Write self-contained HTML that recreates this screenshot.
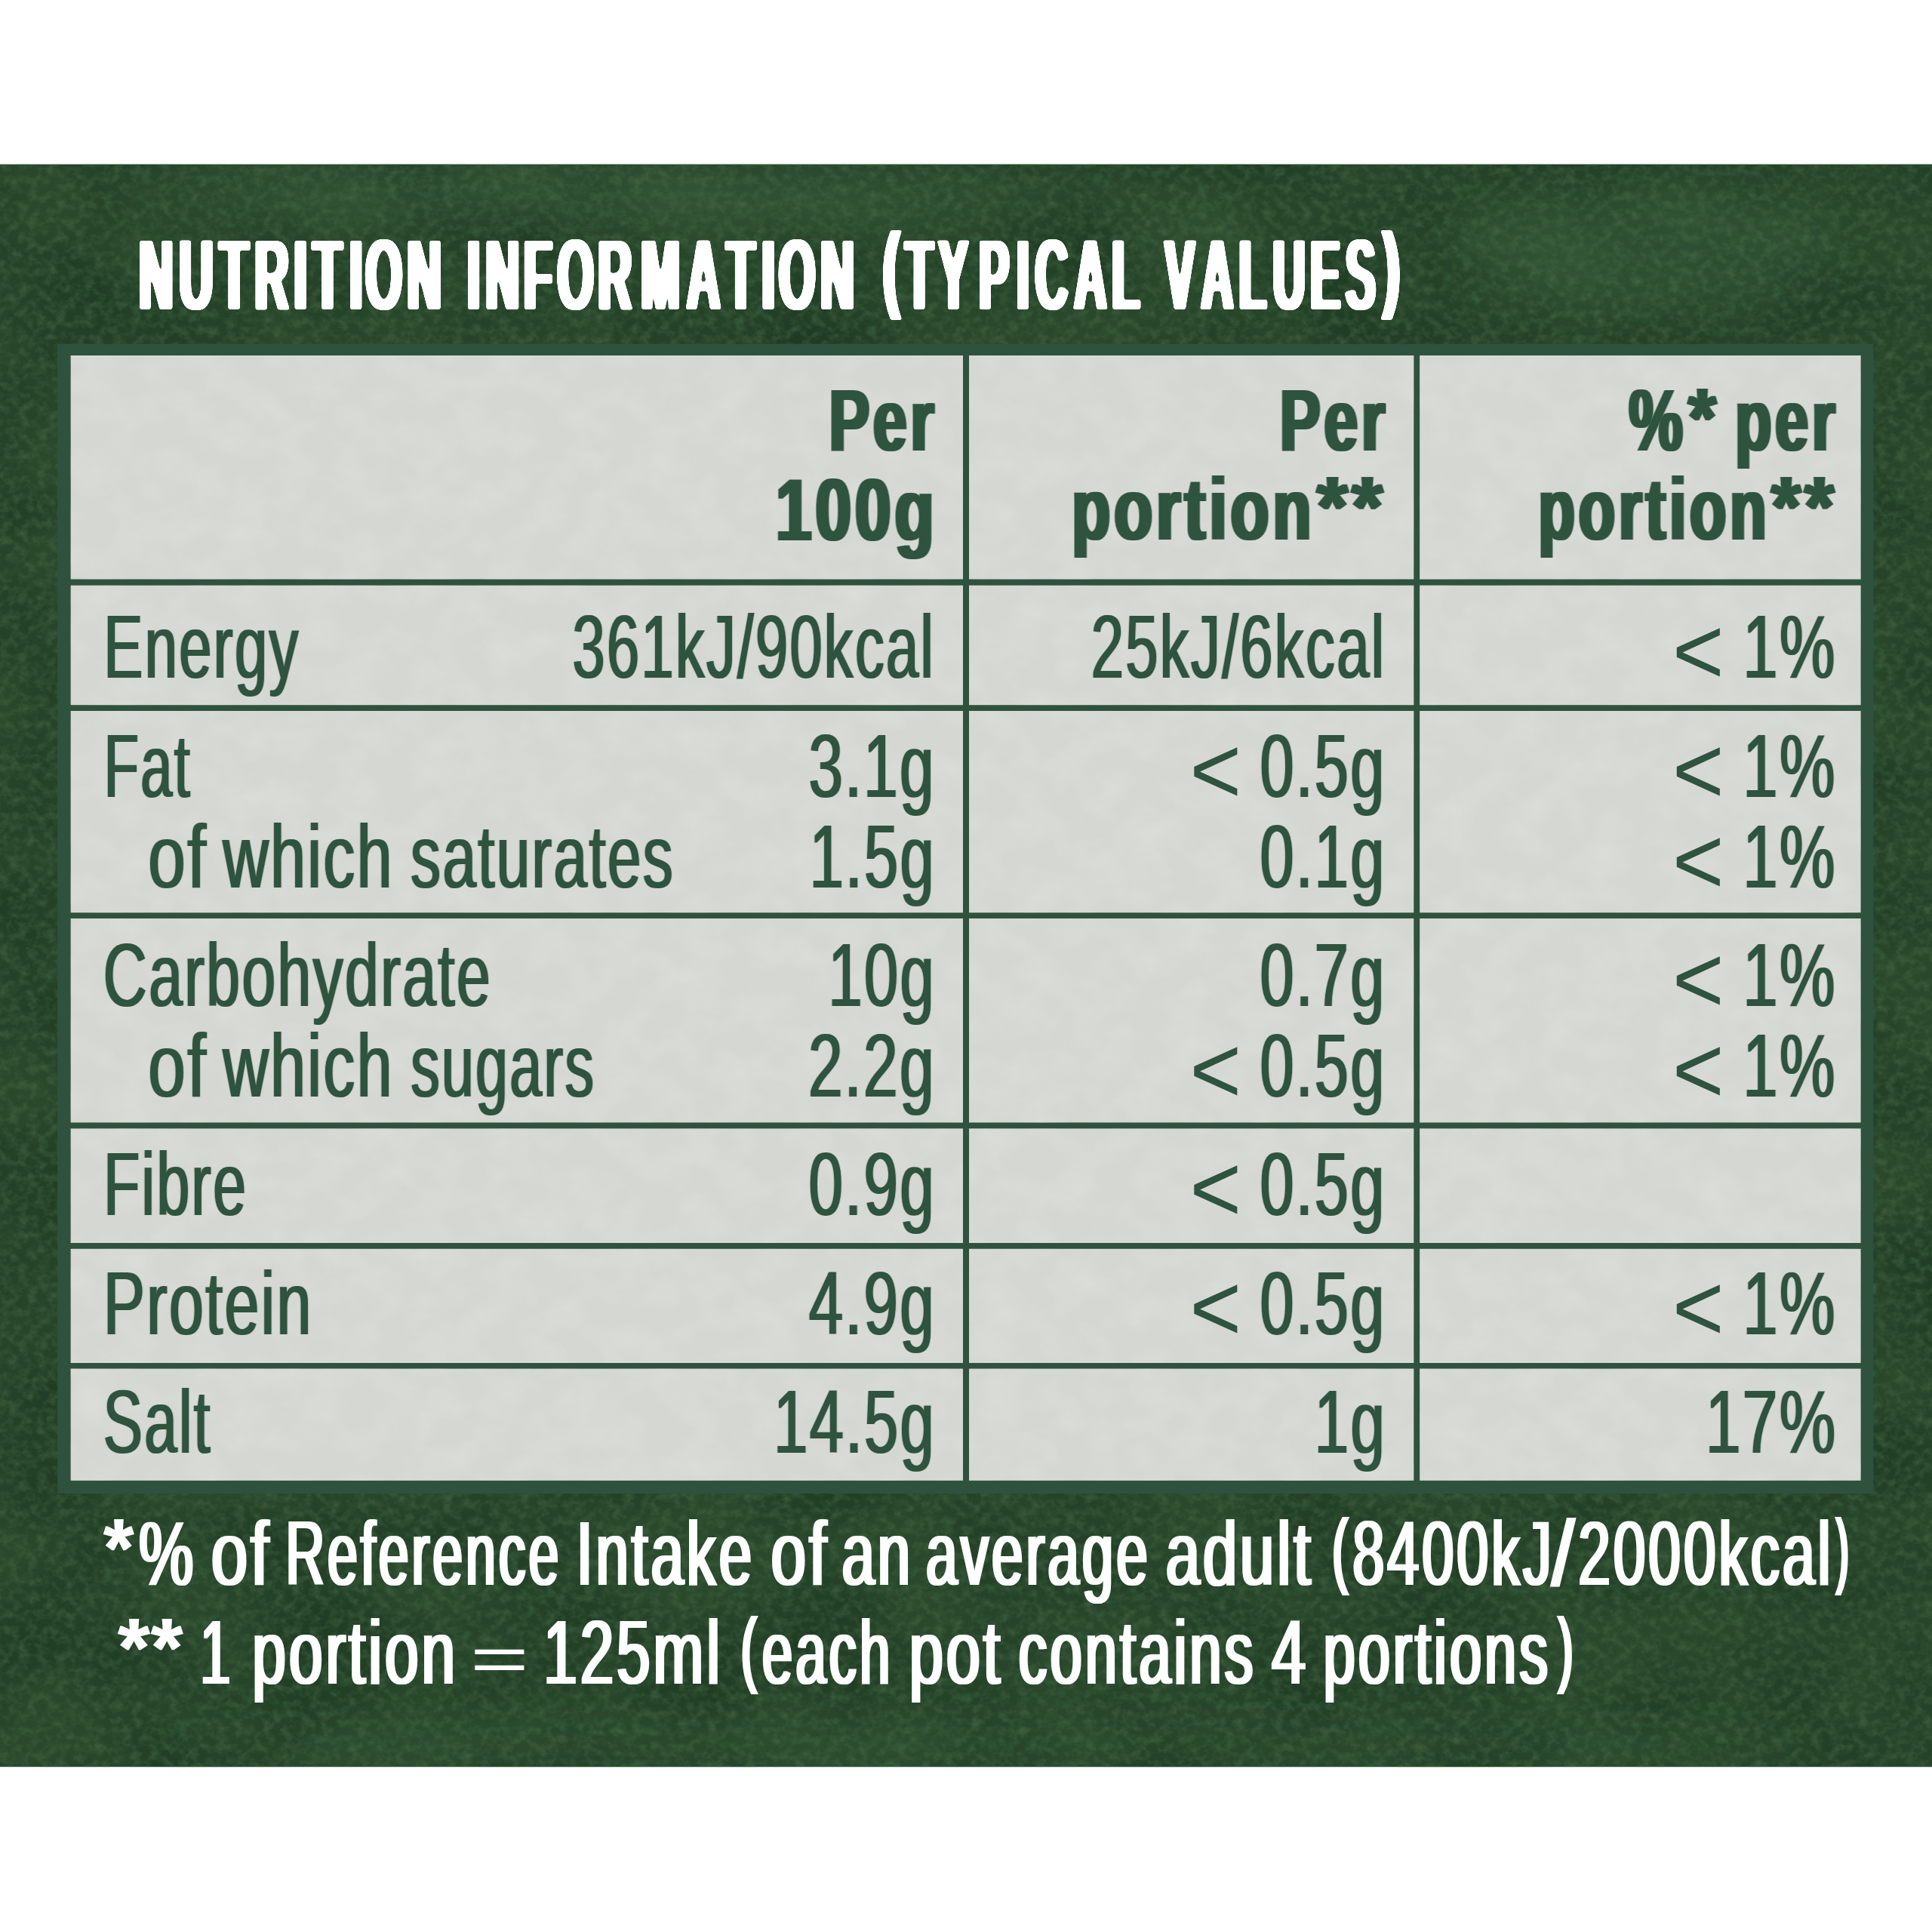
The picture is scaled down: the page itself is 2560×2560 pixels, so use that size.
<!DOCTYPE html>
<html lang="en"><head><meta charset="utf-8"><title>Nutrition information</title>
<style>html,body{margin:0;padding:0;background:#fff}body{width:2560px;height:2560px;overflow:hidden}svg{display:block}text{font-family:"Liberation Sans",sans-serif;white-space:pre}</style></head><body>
<svg width="2560" height="2560" viewBox="0 0 2560 2560">
<defs>
<filter id="dr" filterUnits="userSpaceOnUse" x="0" y="0" width="2560" height="2560" color-interpolation-filters="sRGB"><feMorphology in="SourceGraphic" operator="dilate" radius="1 0" result="a"/><feMorphology in="SourceGraphic" operator="dilate" radius="2 0" result="b"/><feComposite in="a" in2="b" operator="arithmetic" k1="0" k2="0.80" k3="0.20" k4="0" result="d"/></filter>
<filter id="db" filterUnits="userSpaceOnUse" x="0" y="0" width="2560" height="2560" color-interpolation-filters="sRGB"><feMorphology in="SourceGraphic" operator="dilate" radius="2 0" result="a"/><feMorphology in="SourceGraphic" operator="dilate" radius="3 0" result="b"/><feComposite in="a" in2="b" operator="arithmetic" k1="0" k2="0.50" k3="0.50" k4="0" result="d"/></filter>
<filter id="df" filterUnits="userSpaceOnUse" x="0" y="0" width="2560" height="2560" color-interpolation-filters="sRGB"><feMorphology in="SourceGraphic" operator="dilate" radius="2 0" result="d"/></filter>
<filter id="dfb" filterUnits="userSpaceOnUse" x="0" y="0" width="2560" height="2560" color-interpolation-filters="sRGB"><feMorphology in="SourceGraphic" operator="dilate" radius="1 0" result="d"/></filter>
<filter id="dt" filterUnits="userSpaceOnUse" x="0" y="0" width="2560" height="2560" color-interpolation-filters="sRGB"><feMorphology in="SourceGraphic" operator="dilate" radius="3 0" result="a"/><feMorphology in="SourceGraphic" operator="dilate" radius="4 0" result="b"/><feComposite in="a" in2="b" operator="arithmetic" k1="0" k2="0.75" k3="0.25" k4="0" result="d"/><feMorphology in="d" operator="erode" radius="0 1" result="d"/><feGaussianBlur in="d" stdDeviation="1.8"/><feComponentTransfer><feFuncA type="linear" slope="8" intercept="-3.5"/></feComponentTransfer><feComponentTransfer><feFuncR type="linear" slope="0" intercept="1"/><feFuncG type="linear" slope="0" intercept="1"/><feFuncB type="linear" slope="0" intercept="1"/></feComponentTransfer></filter>
<filter id="tex" filterUnits="userSpaceOnUse" x="0" y="216" width="2560" height="2127" color-interpolation-filters="sRGB">
<feTurbulence type="fractalNoise" baseFrequency="0.08 0.09" numOctaves="4" seed="7" result="n"/>
<feColorMatrix in="n" type="matrix" values="0 0 0 0 0.27  0 0 0 0 0.41  0 0 0 0 0.27  1.3 0 0 0 -0.50" result="c"/>
<feComposite in="c" in2="SourceGraphic" operator="in"/>
</filter>
<filter id="tex2" filterUnits="userSpaceOnUse" x="0" y="216" width="2560" height="2127" color-interpolation-filters="sRGB">
<feTurbulence type="fractalNoise" baseFrequency="0.006 0.008" numOctaves="2" seed="11" result="n"/>
<feColorMatrix in="n" type="matrix" values="0 0 0 0 0.10  0 0 0 0 0.20  0 0 0 0 0.12  0 1.2 0 0 -0.42" result="c"/>
<feComposite in="c" in2="SourceGraphic" operator="in"/>
</filter>
<filter id="tex3" filterUnits="userSpaceOnUse" x="90" y="465" width="2380" height="1500" color-interpolation-filters="sRGB">
<feTurbulence type="fractalNoise" baseFrequency="0.02 0.025" numOctaves="4" seed="21" result="n"/>
<feColorMatrix in="n" type="matrix" values="0 0 0 0 0.87  0 0 0 0 0.875  0 0 0 0 0.86  1.2 0 0 0 -0.40" result="c"/>
<feComposite in="c" in2="SourceGraphic" operator="in"/>
</filter>
<filter id="bl" x="-20%" y="-100%" width="140%" height="300%"><feGaussianBlur stdDeviation="28"/></filter>
<clipPath id="band"><rect x="0" y="217.7" width="2560" height="2123.5"/></clipPath>
</defs>
<rect x="0" y="217.7" width="2560" height="2123.5" fill="#29482c"/>
<rect x="0" y="217.7" width="2560" height="2123.5" fill="#000" filter="url(#tex2)"/>
<rect x="0" y="217.7" width="2560" height="2123.5" fill="#000" filter="url(#tex)"/>
<g clip-path="url(#band)"><g filter="url(#bl)" fill="#4c7c52"><ellipse cx="800" cy="258" rx="640" ry="30" opacity="0.30"/><ellipse cx="2180" cy="330" rx="250" ry="80" opacity="0.22"/><ellipse cx="1560" cy="300" rx="90" ry="60" opacity="0.20"/><ellipse cx="1300" cy="2310" rx="1100" ry="25" opacity="0.18"/></g></g>
<rect x="76.1" y="455.8" width="2406.2" height="1523.2" fill="#2e523e"/>
<rect x="93.7" y="471.0" width="1182.3" height="296.5" fill="#d5d7d2"/>
<rect x="1284.0" y="471.0" width="589.3" height="296.5" fill="#d5d7d2"/>
<rect x="1881.2" y="471.0" width="584.4" height="296.5" fill="#d5d7d2"/>
<rect x="93.7" y="775.7" width="1182.3" height="158.5" fill="#d5d7d2"/>
<rect x="1284.0" y="775.7" width="589.3" height="158.5" fill="#d5d7d2"/>
<rect x="1881.2" y="775.7" width="584.4" height="158.5" fill="#d5d7d2"/>
<rect x="93.7" y="942.0" width="1182.3" height="267.3" fill="#d5d7d2"/>
<rect x="1284.0" y="942.0" width="589.3" height="267.3" fill="#d5d7d2"/>
<rect x="1881.2" y="942.0" width="584.4" height="267.3" fill="#d5d7d2"/>
<rect x="93.7" y="1217.0" width="1182.3" height="270.4" fill="#d5d7d2"/>
<rect x="1284.0" y="1217.0" width="589.3" height="270.4" fill="#d5d7d2"/>
<rect x="1881.2" y="1217.0" width="584.4" height="270.4" fill="#d5d7d2"/>
<rect x="93.7" y="1495.4" width="1182.3" height="151.6" fill="#d5d7d2"/>
<rect x="1284.0" y="1495.4" width="589.3" height="151.6" fill="#d5d7d2"/>
<rect x="1881.2" y="1495.4" width="584.4" height="151.6" fill="#d5d7d2"/>
<rect x="93.7" y="1654.8" width="1182.3" height="151.2" fill="#d5d7d2"/>
<rect x="1284.0" y="1654.8" width="589.3" height="151.2" fill="#d5d7d2"/>
<rect x="1881.2" y="1654.8" width="584.4" height="151.2" fill="#d5d7d2"/>
<rect x="93.7" y="1813.6" width="1182.3" height="148.2" fill="#d5d7d2"/>
<rect x="1284.0" y="1813.6" width="589.3" height="148.2" fill="#d5d7d2"/>
<rect x="1881.2" y="1813.6" width="584.4" height="148.2" fill="#d5d7d2"/>
<g filter="url(#tex3)">
<rect x="93.7" y="471.0" width="1182.3" height="296.5" fill="#000"/>
<rect x="1284.0" y="471.0" width="589.3" height="296.5" fill="#000"/>
<rect x="1881.2" y="471.0" width="584.4" height="296.5" fill="#000"/>
<rect x="93.7" y="775.7" width="1182.3" height="158.5" fill="#000"/>
<rect x="1284.0" y="775.7" width="589.3" height="158.5" fill="#000"/>
<rect x="1881.2" y="775.7" width="584.4" height="158.5" fill="#000"/>
<rect x="93.7" y="942.0" width="1182.3" height="267.3" fill="#000"/>
<rect x="1284.0" y="942.0" width="589.3" height="267.3" fill="#000"/>
<rect x="1881.2" y="942.0" width="584.4" height="267.3" fill="#000"/>
<rect x="93.7" y="1217.0" width="1182.3" height="270.4" fill="#000"/>
<rect x="1284.0" y="1217.0" width="589.3" height="270.4" fill="#000"/>
<rect x="1881.2" y="1217.0" width="584.4" height="270.4" fill="#000"/>
<rect x="93.7" y="1495.4" width="1182.3" height="151.6" fill="#000"/>
<rect x="1284.0" y="1495.4" width="589.3" height="151.6" fill="#000"/>
<rect x="1881.2" y="1495.4" width="584.4" height="151.6" fill="#000"/>
<rect x="93.7" y="1654.8" width="1182.3" height="151.2" fill="#000"/>
<rect x="1284.0" y="1654.8" width="589.3" height="151.2" fill="#000"/>
<rect x="1881.2" y="1654.8" width="584.4" height="151.2" fill="#000"/>
<rect x="93.7" y="1813.6" width="1182.3" height="148.2" fill="#000"/>
<rect x="1284.0" y="1813.6" width="589.3" height="148.2" fill="#000"/>
<rect x="1881.2" y="1813.6" width="584.4" height="148.2" fill="#000"/>
</g>
<g filter="url(#dt)" font-size="135.2" font-weight="bold" fill="#ffffff">
<text x="397.8 512.2 628.1 728.1 840.4 895.1 999.0 1044.8 1164.2" transform="translate(0 411.00) scale(0.4634 1)">NUTRITION</text>
<text x="1348.2 1401.6 1510.7 1608.4 1726.1 1849.2 1981.3 2095.8 2198.4 2247.2 2367.4" transform="translate(0 411.00) scale(0.4592 1)">INFORMATION</text>
<text transform="translate(1169.67 398.07) scale(0.5128 0.9619)">(</text>
<text x="2705.9 2803.9 2925.2 3037.7 3093.7 3209.7 3323.3" transform="translate(0 411.00) scale(0.4434 1)">TYPICAL</text>
<text x="3514.3 3623.4 3738.1 3840.3 3953.2 4059.8" transform="translate(0 411.00) scale(0.4392 1)">VALUES</text>
<text transform="translate(1831.45 398.07) scale(0.5231 0.9619)">)</text>
</g>
<g filter="url(#db)" font-size="116.3" font-weight="bold" fill="#2e533f">
<text transform="translate(1098.68 597.00) scale(0.6884 1.0000)" letter-spacing="7.26">Per</text>
<text transform="translate(1695.98 597.00) scale(0.6890 1.0000)" letter-spacing="7.26">Per</text>
<text transform="translate(2158.42 597.00) scale(0.6889 1.0000)">%</text>
<text transform="translate(2236.90 592.66) scale(0.8174 0.9773)">*</text>
<text transform="translate(2299.16 597.00) scale(0.6774 1.0000)" letter-spacing="7.38">per</text>
<text transform="translate(1028.06 715.50) scale(0.7338 1.0000)" letter-spacing="6.81">100g</text>
<text transform="translate(1420.18 715.00) scale(0.7176 1.0000)" letter-spacing="6.97">portion</text>
<text transform="translate(1744.80 710.93) scale(0.9117 0.9818)" letter-spacing="5.48">**</text>
<text transform="translate(2038.54 715.00) scale(0.6796 1.0000)" letter-spacing="7.36">portion</text>
<text transform="translate(2346.90 710.93) scale(0.8657 0.9818)" letter-spacing="5.78">**</text>
</g>
<g filter="url(#dr)" font-size="119.2" font-weight="normal" fill="#2e533f">
<text transform="translate(137.54 898.30) scale(0.6511 1.0000)" letter-spacing="3.69">Energy</text>
<text transform="translate(758.60 898.30) scale(0.6492 1.0000)" letter-spacing="3.70">361kJ/90kcal</text>
<text transform="translate(1445.69 898.30) scale(0.6513 1.0000)" letter-spacing="3.68">25kJ/6kcal</text>
<text transform="translate(2309.56 898.30) scale(0.6931 1.0000)" letter-spacing="3.46">1%</text>
<text transform="translate(137.69 1056.00) scale(0.6340 1.0000)" letter-spacing="3.79">Fat</text>
<text transform="translate(1071.46 1056.00) scale(0.6847 1.0000)" letter-spacing="3.51">3.1g</text>
<text transform="translate(1669.59 1056.00) scale(0.6783 1.0000)" letter-spacing="3.54">0.5g</text>
<text transform="translate(2309.56 1056.00) scale(0.6931 1.0000)" letter-spacing="3.46">1%</text>
<text transform="translate(196.27 1175.60) scale(0.7462 1.0000)" letter-spacing="3.22">of</text>
<text transform="translate(295.20 1175.60) scale(0.7043 1.0000)" letter-spacing="3.41">which</text>
<text transform="translate(544.09 1175.60) scale(0.6699 1.0000)" letter-spacing="3.58">saturates</text>
<text transform="translate(1072.69 1175.60) scale(0.6792 1.0000)" letter-spacing="3.53">1.5g</text>
<text transform="translate(1669.59 1175.60) scale(0.6783 1.0000)" letter-spacing="3.54">0.1g</text>
<text transform="translate(2309.56 1175.60) scale(0.6931 1.0000)" letter-spacing="3.46">1%</text>
<text transform="translate(136.76 1333.00) scale(0.6738 1.0000)" letter-spacing="3.56">Carbohydrate</text>
<text transform="translate(1097.59 1333.00) scale(0.6792 1.0000)" letter-spacing="3.53">10g</text>
<text transform="translate(1669.59 1333.00) scale(0.6783 1.0000)" letter-spacing="3.54">0.7g</text>
<text transform="translate(2309.56 1333.00) scale(0.6931 1.0000)" letter-spacing="3.46">1%</text>
<text transform="translate(196.27 1452.60) scale(0.7462 1.0000)" letter-spacing="3.22">of</text>
<text transform="translate(295.20 1452.60) scale(0.7043 1.0000)" letter-spacing="3.41">which</text>
<text transform="translate(544.17 1452.60) scale(0.6448 1.0000)" letter-spacing="3.72">sugars</text>
<text transform="translate(1070.88 1452.60) scale(0.6873 1.0000)" letter-spacing="3.49">2.2g</text>
<text transform="translate(1669.59 1452.60) scale(0.6783 1.0000)" letter-spacing="3.54">0.5g</text>
<text transform="translate(2309.56 1452.60) scale(0.6931 1.0000)" letter-spacing="3.46">1%</text>
<text transform="translate(137.16 1610.00) scale(0.6596 1.0000)" letter-spacing="3.64">Fibre</text>
<text transform="translate(1071.56 1610.00) scale(0.6847 1.0000)" letter-spacing="3.51">0.9g</text>
<text transform="translate(1669.59 1610.00) scale(0.6783 1.0000)" letter-spacing="3.54">0.5g</text>
<text transform="translate(136.88 1767.50) scale(0.6910 1.0000)" letter-spacing="3.47">Protein</text>
<text transform="translate(1071.73 1767.50) scale(0.6839 1.0000)" letter-spacing="3.51">4.9g</text>
<text transform="translate(1669.59 1767.50) scale(0.6783 1.0000)" letter-spacing="3.54">0.5g</text>
<text transform="translate(2309.56 1767.50) scale(0.6931 1.0000)" letter-spacing="3.46">1%</text>
<text transform="translate(136.73 1925.40) scale(0.6546 1.0000)" letter-spacing="3.67">Salt</text>
<text transform="translate(1025.28 1925.40) scale(0.6795 1.0000)" letter-spacing="3.53">14.5g</text>
<text transform="translate(1741.85 1925.40) scale(0.6828 1.0000)" letter-spacing="3.51">1g</text>
<text transform="translate(2259.88 1925.40) scale(0.7018 1.0000)" letter-spacing="3.42">17%</text>
</g>
<g font-size="119.2" font-weight="normal" fill="#2e533f">
<text transform="translate(2215.88 906.41) scale(0.9847 1.0516)">&lt;</text>
<text transform="translate(1576.48 1064.11) scale(0.9847 1.0516)">&lt;</text>
<text transform="translate(2215.88 1064.11) scale(0.9847 1.0516)">&lt;</text>
<text transform="translate(2215.88 1183.71) scale(0.9847 1.0516)">&lt;</text>
<text transform="translate(2215.88 1341.11) scale(0.9847 1.0516)">&lt;</text>
<text transform="translate(1576.48 1460.71) scale(0.9847 1.0516)">&lt;</text>
<text transform="translate(2215.88 1460.71) scale(0.9847 1.0516)">&lt;</text>
<text transform="translate(1576.48 1618.11) scale(0.9847 1.0516)">&lt;</text>
<text transform="translate(1576.48 1775.61) scale(0.9847 1.0516)">&lt;</text>
<text transform="translate(2215.88 1775.61) scale(0.9847 1.0516)">&lt;</text>
</g>
<g filter="url(#df)" font-size="121.0" font-weight="normal" fill="#ffffff">
<text transform="translate(183.91 2099.50) scale(0.6720 1.0000)">%</text>
<text transform="translate(279.71 2099.50) scale(0.7186 1.0000)" letter-spacing="5.57">of</text>
<text transform="translate(378.38 2099.50) scale(0.5912 1.0000)" letter-spacing="6.77">Reference</text>
<text transform="translate(763.81 2099.50) scale(0.6444 1.0000)" letter-spacing="6.21">Intake</text>
<text transform="translate(1021.55 2099.50) scale(0.6906 1.0000)" letter-spacing="5.79">of</text>
<text transform="translate(1115.48 2099.50) scale(0.6443 1.0000)" letter-spacing="6.21">an</text>
<text transform="translate(1227.12 2099.50) scale(0.6169 1.0000)" letter-spacing="6.48">average</text>
<text transform="translate(1544.75 2099.50) scale(0.6707 1.0000)" letter-spacing="5.96">adult</text>
<text transform="translate(1765.12 2091.10) scale(0.5394 0.9241)">(</text>
<text transform="translate(1792.28 2099.50) scale(0.6244 1.0000)" letter-spacing="6.41">8400kJ</text>
<text transform="translate(2055.70 2101.43) scale(0.9176 1.0337)">/</text>
<text transform="translate(2091.20 2099.50) scale(0.6326 1.0000)" letter-spacing="6.32">2000kcal</text>
<text transform="translate(2432.80 2091.10) scale(0.4212 0.9241)">)</text>
<text transform="translate(265.15 2230.60) scale(0.5943 1.0000)">1</text>
<text transform="translate(334.37 2230.60) scale(0.6616 1.0000)" letter-spacing="6.05">portion</text>
<text transform="translate(625.32 2226.55) scale(1.0367 0.6974)">=</text>
<text transform="translate(720.15 2230.60) scale(0.6611 1.0000)" letter-spacing="6.05">125ml</text>
<text transform="translate(981.40 2222.40) scale(0.5424 0.9241)">(</text>
<text transform="translate(1009.70 2230.60) scale(0.6010 1.0000)" letter-spacing="6.66">each</text>
<text transform="translate(1204.71 2230.60) scale(0.6700 1.0000)" letter-spacing="5.97">pot</text>
<text transform="translate(1349.56 2230.60) scale(0.6280 1.0000)" letter-spacing="6.37">contains</text>
<text transform="translate(1684.95 2230.60) scale(0.6726 1.0000)">4</text>
<text transform="translate(1753.51 2230.60) scale(0.6265 1.0000)" letter-spacing="6.38">portions</text>
<text transform="translate(2064.30 2222.40) scale(0.5061 0.9241)">)</text>
</g>
<g filter="url(#dfb)" font-size="121.0" font-weight="bold" fill="#ffffff">
<text transform="translate(137.60 2090.36) scale(0.8383 0.9200)">*</text>
<text transform="translate(156.60 2221.96) scale(0.8864 0.9200)" letter-spacing="2.26">**</text>
</g>
</svg></body></html>
